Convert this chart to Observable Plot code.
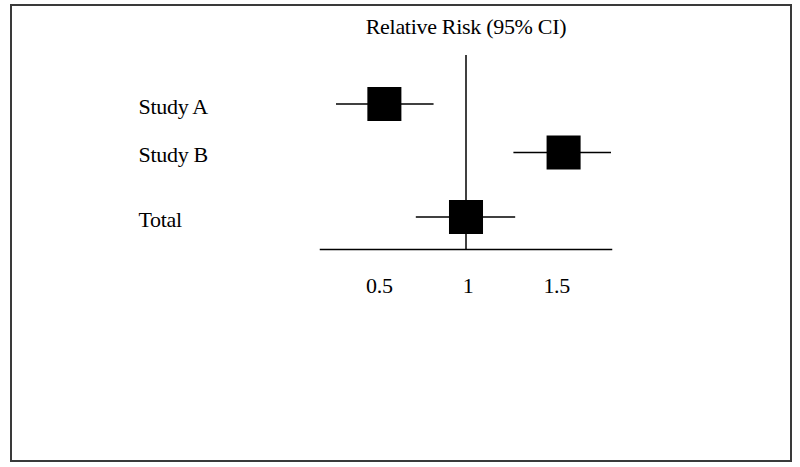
<!DOCTYPE html>
<html>
<head>
<meta charset="utf-8">
<script src="https://cdn.jsdelivr.net/npm/d3@7"></script>
<script src="https://cdn.jsdelivr.net/npm/@observablehq/plot@0.6"></script>
<style>
  html, body { margin: 0; padding: 0; background: #fff; }
  #wrap { position: relative; width: 800px; height: 467px; }
  #border { position: absolute; left: 10px; top: 4px; width: 778px; height: 454px; border: 2px solid #3a3a3a; pointer-events: none; }
  #chart { position: absolute; left: 0; top: 0; }
  #chart svg text { letter-spacing: -0.3px; }
</style>
</head>
<body>
<div id="wrap"><div id="chart"></div><div id="border"></div></div>
<script>
const title = "Relative Risk (95% CI)";
const studies = ["Study A", "Study B", "Total"];
const rowIndex = [1, 2, 3.33];
const estimates = [0.54, 1.55, 1.0];
const lower = [0.27, 1.27, 0.72];
const upper = [0.82, 1.82, 1.28];
const tickValues = [0.5, 1, 1.5];
const tickLabels = ["0.5", "1", "1.5"];

const data = studies.map((s, i) => ({
  study: s, row: rowIndex[i], est: estimates[i], lo: lower[i], hi: upper[i]
}));

const chart = Plot.plot({
  width: 800,
  height: 467,
  marginLeft: 320,
  marginRight: 189,
  marginTop: 55,
  marginBottom: 218,
  style: { fontFamily: "'Liberation Serif', serif", fontSize: "22px", color: "#000", background: "transparent" },
  x: { domain: [0.18, 1.82] },
  y: { domain: [0, 4], reverse: true, axis: null },
  marks: [
    Plot.ruleX([1], { stroke: "#000", strokeWidth: 1.5 }),
    Plot.ruleY(data, { y: "row", x1: "lo", x2: "hi", stroke: "#000", strokeWidth: 1.5 }),
    Plot.dot(data, { x: "est", y: "row", symbol: "square", r: 19.2, fill: "#000", stroke: "none" }),
    Plot.text(data, { y: "row", text: "study", frameAnchor: "left", dx: -182, textAnchor: "start", dy: 2.5, fill: "#000" }),
    Plot.frame({ anchor: "bottom", stroke: "#000", strokeWidth: 1.5 }),
    Plot.text([title], { text: d => d, frameAnchor: "top", lineAnchor: "bottom", dy: -22, fill: "#000" }),
    Plot.axisX({ ticks: tickValues, tickSize: 0, tickPadding: 28, dx: 2, tickFormat: d => tickLabels[tickValues.indexOf(d)], fontSize: 22, fill: "#000" })
  ]
});
document.getElementById("chart").appendChild(chart);
</script>
</body>
</html>
